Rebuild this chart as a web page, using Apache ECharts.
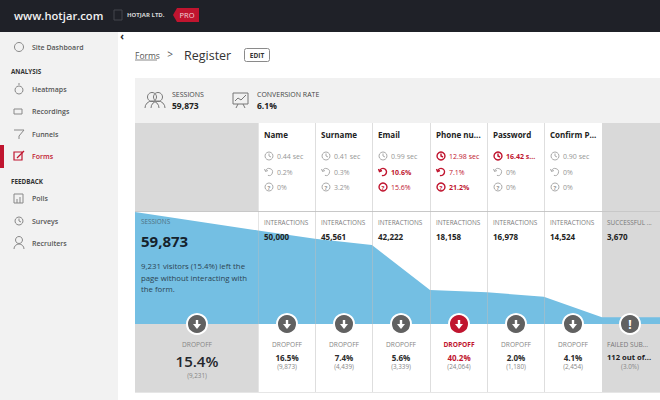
<!DOCTYPE html>
<html>
<head>
<meta charset="utf-8">
<style>html,body{margin:0;padding:0;background:#fff}#chart{width:660px;height:400px}</style>
<script src="https://cdn.jsdelivr.net/npm/echarts@6/dist/echarts.min.js"></script>
</head>
<body>
<div id="chart"></div>
<script>
// funnel: step position along the form (first column is wider) and visitors at that step
var funnelSteps = [0, 2.14, 3.13, 4.12, 5.13, 6.12, 7.11, 8.12, 9.13];
var funnelValues = [59873, 50000, 45561, 42222, 18158, 16978, 14524, 3670, 3670];

var fieldNames = ['Name', 'Surname', 'Email', 'Phone nu...', 'Password', 'Confirm P...'];
var fieldTimes = ['0.44 sec', '0.41 sec', '0.99 sec', '12.98 sec', '16.42 s...', '0.90 sec'];
var fieldRefills = ['0.2%', '0.3%', '10.6%', '7.1%', '0%', '0%'];
var fieldBlanks = ['0%', '3.2%', '15.6%', '21.2%', '0%', '0%'];
// 0 normal, 1 warning, 2 worst
var timeAlerts = [0, 0, 0, 1, 2, 0];
var refillAlerts = [0, 0, 2, 1, 0, 0];
var blankAlerts = [0, 0, 1, 2, 0, 0];
var interactions = ['50,000', '45,561', '42,222', '18,158', '16,978', '14,524'];
var dropoffPct = ['16.5%', '7.4%', '5.6%', '40.2%', '2.0%', '4.1%'];
var dropoffCount = ['(9,873)', '(4,439)', '(3,339)', '(24,064)', '(1,180)', '(2,454)'];
var dropoffAlerts = [0, 0, 0, 1, 0, 0];

var menuTop = ['Site Dashboard'];
var menuAnalysis = ['Heatmaps', 'Recordings', 'Funnels', 'Forms'];
var menuFeedback = ['Polls', 'Surveys', 'Recruiters'];

var FONT = '"Open Sans", "Noto Sans", sans-serif';
var RED = '#c0152f', BLUE = '#74bfe3', GRAY = '#d9d9d9', MUTED = '#858585', MENU = '#555';
var colLeft = [258, 315, 372, 430, 487, 544];
var colRight = 602;
var els = [];

function rect(x, y, w, h, fill, z) {
	els.push({type: 'rect', z: z || 1, shape: {x: x, y: y, width: w, height: h}, style: {fill: fill}});
}
function line(x1, y1, x2, y2, color, z, w) {
	els.push({type: 'line', z: z || 2, shape: {x1: x1, y1: y1, x2: x2, y2: y2}, style: {stroke: color, lineWidth: w || 1}});
}
function text(str, x, y, size, color, weight, align) {
	els.push({type: 'text', z: 20, x: x, y: y, style: {
		text: str, fill: color, fontFamily: FONT, fontSize: size, fontWeight: weight || 400,
		align: align || 'left', verticalAlign: 'middle'
	}});
}
function ring(cx, cy, r, color, w, z) {
	els.push({type: 'circle', z: z || 20, shape: {cx: cx, cy: cy, r: r}, style: {fill: 'none', stroke: color, lineWidth: w || 1}});
}
function poly(points, color, w) {
	els.push({type: 'polyline', z: 20, shape: {points: points}, style: {fill: 'none', stroke: color, lineWidth: w || 1}});
}
function arc(cx, cy, r, a0, a1, color, w) {
	els.push({type: 'arc', z: 20, shape: {cx: cx, cy: cy, r: r, startAngle: a0, endAngle: a1}, style: {fill: 'none', stroke: color, lineWidth: w || 1}});
}

function clockIcon(cx, cy, color, w) {
	ring(cx, cy, 4, color, w);
	poly([[cx, cy - 2.5], [cx, cy], [cx + 2, cy + 1]], color, w);
}
function refillIcon(cx, cy, color, w) {
	arc(cx, cy, 3.5, -Math.PI * 0.9, Math.PI * 0.6, color, w);
	poly([[cx - 4.5, cy - 3], [cx - 3.5, cy - 0.5], [cx - 1, cy - 1.5]], color, w);
}
function blankIcon(cx, cy, color, w) {
	ring(cx, cy, 4, color, w);
	text('?', cx, cy + 0.5, 6, color, 700, 'center');
}
function alertColor(level) { return level ? RED : '#969696'; }
function alertWeight(level) { return level === 2 ? 700 : 400; }

function dropBadge(cx, cy, fill, isAlertMark) {
	els.push({type: 'circle', z: 15, shape: {cx: cx, cy: cy, r: 10}, style: {fill: fill, stroke: '#fff', lineWidth: 2}});
	if (isAlertMark) {
		text('!', cx, cy, 12, '#fff', 700, 'center');
		return;
	}
	line(cx, cy - 4, cx, cy + 2, '#fff', 16, 2.4);
	els.push({type: 'polygon', z: 16, shape: {points: [[cx - 4, cy], [cx + 4, cy], [cx, cy + 5]]}, style: {fill: '#fff'}});
}

// page chrome
rect(0, 0, 660, 32, '#1f2128');
rect(0, 32, 118, 368, '#f2f2f2');
text('www.hotjar.com', 14, 15, 11.2, '#f2f2f2', 600);
els.push({type: 'rect', z: 2, shape: {x: 114, y: 10, width: 8, height: 10}, style: {fill: 'none', stroke: '#44464c'}});
text('HOTJAR LTD.', 127, 15, 6, '#d8d8d8', 700);
els.push({type: 'polygon', z: 2, shape: {points: [[173, 15], [177, 8], [199, 8], [199, 22], [177, 22]]}, style: {fill: RED}});
text('PRO', 187, 15, 7.5, '#f4d6da', 400, 'center');
text('‹', 122, 36, 10, '#222', 700, 'center');

// side menu
text(menuTop[0], 32, 47, 7, MENU, 600);
ring(19, 47, 4.5, '#888');
text('ANALYSIS', 11, 71, 6.3, '#333', 700);
var analysisY = [89, 111, 134, 156];
menuAnalysis.forEach(function (name, i) {
	var active = name === 'Forms';
	text(name, 32, analysisY[i], 7, active ? RED : MENU, 600);
});
ring(19, 90, 4, '#888');
line(19, 85, 19, 83, '#888');
els.push({type: 'rect', z: 20, shape: {x: 14, y: 109, width: 8, height: 5}, style: {fill: 'none', stroke: '#888'}});
poly([[14, 130], [24, 130], [19, 136], [19, 139]], '#888');
rect(0, 145, 4, 23, RED, 3);
els.push({type: 'rect', z: 20, shape: {x: 14, y: 152, width: 8, height: 8}, style: {fill: 'none', stroke: RED, lineWidth: 1.2}});
line(17, 158, 24, 151, RED, 20, 1.2);
text('FEEDBACK', 11, 181, 6.3, '#333', 700);
var feedbackY = [198, 221, 243];
menuFeedback.forEach(function (name, i) {
	text(name, 32, feedbackY[i], 7, MENU, 600);
});
els.push({type: 'rect', z: 20, shape: {x: 14, y: 194, width: 9, height: 9}, style: {fill: 'none', stroke: '#888'}});
line(17, 203, 17, 199, '#888', 20);
line(20, 203, 20, 197, '#888', 20);
clockIcon(19, 221, '#888');
ring(19, 240, 3.5, '#888');
arc(19, 249, 5, Math.PI, 0, '#888');

// breadcrumb
text('Forms', 135, 55, 8.5, '#555');
line(135, 60, 157, 60, '#888', 20);
text('>', 170, 54, 10, '#555', 400, 'center');
text('Register', 184, 55, 12.5, '#333');
els.push({type: 'rect', z: 2, shape: {x: 244.5, y: 48.5, width: 25, height: 13, r: 2}, style: {fill: '#fff', stroke: '#8a8a8a'}});
text('EDIT', 257, 55, 6.5, '#333', 700, 'center');

// summary strip
rect(135, 78, 525, 45, '#f1f1f1');
ring(152, 97, 4.5, '#777');
ring(158, 97, 4.5, '#777');
arc(152, 108, 7, Math.PI, 0, '#777');
arc(158, 108, 7, Math.PI, 0, '#777');
text('SESSIONS', 172, 94, 7, '#444');
text('59,873', 172, 105, 8.5, '#222', 700);
els.push({type: 'rect', z: 20, shape: {x: 233, y: 93, width: 15, height: 11}, style: {fill: 'none', stroke: '#777'}});
poly([[235, 101], [238, 98], [241, 100], [246, 95]], '#777');
poly([[238, 104], [236, 108]], '#777');
poly([[243, 104], [245, 108]], '#777');
text('CONVERSION RATE', 257, 94, 7, '#444');
text('6.1%', 257, 105, 8.5, '#222', 700);

// table backgrounds
rect(135, 123, 123, 89, GRAY);
rect(135, 324, 123, 68, GRAY);
rect(colRight, 123, 58, 269, GRAY);
line(135, 211.5, 660, 211.5, '#c8c8c8', 2);
line(135, 392.5, 660, 392.5, '#e6e6e6', 2);
colLeft.slice(1).forEach(function (x) {
	line(x + 0.5, 123, x + 0.5, 392, 'rgba(190,190,190,0.5)', 12);
});
line(258.5, 123, 258.5, 392, 'rgba(190,190,190,0.4)', 12);

// field columns
fieldNames.forEach(function (name, i) {
	var x = colLeft[i] + 6;
	var mid = colLeft[i] + 29;
	text(name, x, 134, 8, '#222', 700);
	clockIcon(x + 5, 156, alertColor(timeAlerts[i]), timeAlerts[i] ? 1.4 : 0.8);
	text(fieldTimes[i], x + 13, 156, 7, alertColor(timeAlerts[i]), alertWeight(timeAlerts[i]));
	refillIcon(x + 5, 172, alertColor(refillAlerts[i]), refillAlerts[i] ? 1.4 : 0.8);
	text(fieldRefills[i], x + 13, 172, 7, alertColor(refillAlerts[i]), alertWeight(refillAlerts[i]));
	blankIcon(x + 5, 187, alertColor(blankAlerts[i]), blankAlerts[i] ? 1.4 : 0.8);
	text(fieldBlanks[i], x + 13, 187, 7, alertColor(blankAlerts[i]), alertWeight(blankAlerts[i]));

	text('INTERACTIONS', x, 222, 6.4, '#7c7c7c');
	text(interactions[i], x, 236, 8, '#222', 700);

	dropBadge(mid, 324, dropoffAlerts[i] ? RED : '#616161');
	text('DROPOFF', mid, 344, 6.6, dropoffAlerts[i] ? RED : MUTED, dropoffAlerts[i] ? 700 : 400, 'center');
	text(dropoffPct[i], mid, 357, 8, dropoffAlerts[i] ? RED : '#2b2b2b', 700, 'center');
	text(dropoffCount[i], mid, 366, 6.3, MUTED, 400, 'center');
});

// sessions column
text('SESSIONS', 141, 221, 6.4, '#4e6f80');
text('59,873', 141, 241, 15, '#15222c', 700);
text('9,231 visitors (15.4%) left the', 141, 266, 7.8, '#2d4452');
text('page without interacting with', 141, 277.5, 7.8, '#2d4452');
text('the form.', 141, 289, 7.8, '#2d4452');
dropBadge(197, 324, '#616161');
text('DROPOFF', 197, 344, 6.6, MUTED, 400, 'center');
text('15.4%', 197, 361, 15, '#23262b', 600, 'center');
text('(9,231)', 197, 375, 6.3, MUTED, 400, 'center');

// last column
text('SUCCESSFUL ...', 607, 222, 6.4, '#777');
text('3,670', 607, 236, 8, '#222', 700);
dropBadge(630, 324, '#616161', true);
text('FAILED SUB...', 607, 344, 6.6, '#777');
text('112 out of...', 607, 357, 7.6, '#222', 700);
text('(3.0%)', 630, 366, 6.3, MUTED, 400, 'center');

var chart = echarts.init(document.getElementById('chart'), null, {renderer: 'svg'});
chart.setOption({
	animation: false,
	grid: {left: 135, right: 0, top: 212, height: 112, containLabel: false},
	xAxis: {type: 'value', min: 0, max: 9.13, show: false},
	yAxis: {type: 'value', min: 0, max: 59873, show: false},
	series: [{
		type: 'line',
		z: 5,
		showSymbol: false,
		lineStyle: {width: 0},
		itemStyle: {color: BLUE},
		areaStyle: {color: BLUE, opacity: 1},
		data: funnelSteps.map(function (s, i) { return [s, funnelValues[i]]; })
	}],
	graphic: {elements: els}
});
</script>
</body>
</html>
